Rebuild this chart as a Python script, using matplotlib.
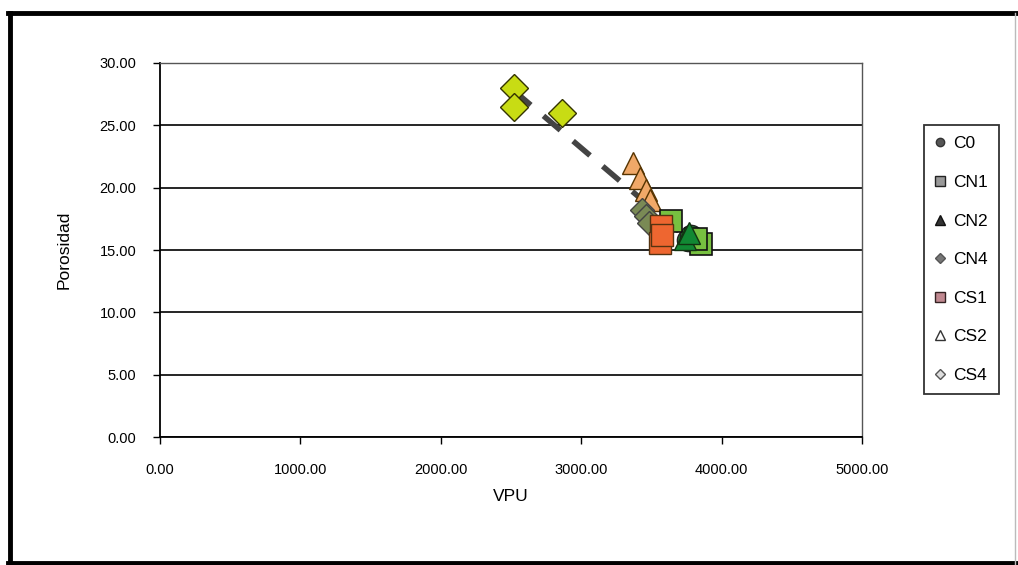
import numpy as np
import matplotlib
matplotlib.use("Agg")
import matplotlib.pyplot as plt
from matplotlib.lines import Line2D

plt.rcParams['font.family'] = ['Liberation Sans Narrow', 'Liberation Sans', 'DejaVu Sans']

# data (VPU, porosidad)
series = ["C0", "CN1", "CN2", "CN4", "CS1", "CS2", "CS4"]
vpu_c0 = [3760, 3780]
por_c0 = [15.8, 16.1]
vpu_cn1 = [3850, 3820, 3640]
por_cn1 = [15.5, 15.9, 17.3]
vpu_cn2 = [3740, 3765]
por_cn2 = [15.9, 16.4]
vpu_cn4 = [3430, 3460, 3480]
por_cn4 = [18.2, 17.7, 17.2]
vpu_cs1 = [3570, 3560, 3575]
por_cs1 = [16.9, 15.6, 16.2]
vpu_cs2 = [3370, 3420, 3460, 3490]
por_cs2 = [22.0, 20.8, 19.8, 19.0]
vpu_cs4 = [2520, 2520, 2860]
por_cs4 = [28.0, 26.5, 26.0]

fig = plt.figure(figsize=(10.18, 5.65), dpi=100)
ax = fig.add_axes([0.1572, 0.2265, 0.6896, 0.662])

ax.set_xlim(0, 5000)
ax.set_ylim(0, 30)
ax.set_xticks([0, 1000, 2000, 3000, 4000, 5000])
ax.set_yticks([0, 5, 10, 15, 20, 25, 30])
ax.set_xticklabels(["%.2f" % v for v in ax.get_xticks()])
ax.set_yticklabels(["%.2f" % v for v in ax.get_yticks()])
ax.tick_params(direction='out', length=5, width=1, labelsize=10.5)
ax.tick_params(axis='x', pad=14)
ax.tick_params(axis='y', pad=12)
ax.grid(axis='y', color='black', linewidth=1.2)
ax.set_axisbelow(True)
for s in ['top', 'right']:
    ax.spines[s].set_color('#555555')
    ax.spines[s].set_linewidth(1)
for s in ['left', 'bottom']:
    ax.spines[s].set_linewidth(1.3)

# trend line over all points
all_x = np.array(vpu_c0 + vpu_cn1 + vpu_cn2 + vpu_cn4 + vpu_cs1 + vpu_cs2 + vpu_cs4)
all_y = np.array(por_c0 + por_cn1 + por_cn2 + por_cn4 + por_cs1 + por_cs2 + por_cs4)
m, b = np.polyfit(all_x, all_y, 1)
tx = np.array([all_x.min(), all_x.max()])
ax.plot(tx, m * tx + b, color='#444444', linewidth=4, dashes=(4, 3), zorder=2)

ms = 16
ax.plot(vpu_cs4, por_cs4, 'D', color='#c8dc14', mec='#333300', mew=1, ms=ms * 0.9, ls='none', zorder=3)
ax.plot(vpu_cs2, por_cs2, '^', color='#f0a868', mec='#553300', mew=1, ms=ms, ls='none', zorder=3)
ax.plot(vpu_cn4, por_cn4, 'D', color='#7a8a55', mec='#444444', mew=1, ms=ms * 0.75, ls='none', zorder=3)
ax.plot(vpu_c0, por_c0, 'o', color='#227733', mec='#222222', mew=1, ms=ms, ls='none', zorder=3)
ax.plot(vpu_cn1, por_cn1, 's', color='#77c040', mec='#111111', mew=1.2, ms=ms, ls='none', zorder=3)
ax.plot(vpu_cs1, por_cs1, 's', color='#ee6630', mec='#553311', mew=1, ms=ms, ls='none', zorder=4)
ax.plot(vpu_cn2, por_cn2, '^', color='#118833', mec='#113311', mew=1, ms=ms, ls='none', zorder=4)

ax.set_xlabel("VPU", fontsize=12.5, labelpad=8, family=['Liberation Sans', 'DejaVu Sans'])
ax.set_ylabel("Porosidad", fontsize=12.5, labelpad=20, family=['Liberation Sans', 'DejaVu Sans'])

# legend drawn in greys, as in the original picture
handles = [
    Line2D([], [], marker='o', color='#555555', mec='#333333', ls='none', ms=6),
    Line2D([], [], marker='s', color='#999999', mec='#222222', ls='none', ms=7),
    Line2D([], [], marker='^', color='#333333', mec='#111111', ls='none', ms=7),
    Line2D([], [], marker='D', color='#777777', mec='#555555', ls='none', ms=5),
    Line2D([], [], marker='s', color='#c08890', mec='#332222', ls='none', ms=7),
    Line2D([], [], marker='^', color='white', mec='#333333', ls='none', ms=7),
    Line2D([], [], marker='D', color='#dddddd', mec='#555555', ls='none', ms=5),
]
leg = fig.legend(handles, series, loc='upper left', bbox_to_anchor=(924 / 1018, 1 - 125 / 565),
                 frameon=True, fancybox=False, edgecolor='black', fontsize=12.5,
                 handlelength=0.6, handletextpad=0.4, labelspacing=1.35,
                 borderpad=0.65, borderaxespad=0)
leg.get_frame().set_linewidth(1.3)

# outer frame of the chart image
fig.add_artist(Line2D([8 / 1018, 1], [1 - 13 / 565, 1 - 13 / 565], color='black', lw=3.5))
fig.add_artist(Line2D([10 / 1018, 10 / 1018], [1 - 13 / 565, 0], color='black', lw=3.5))
fig.add_artist(Line2D([8 / 1018, 1], [1 - 563 / 565, 1 - 563 / 565], color='black', lw=3.5))
fig.add_artist(Line2D([1015 / 1018, 1015 / 1018], [1 - 13 / 565, 0], color='#bbbbbb', lw=1))

fig.savefig("out.png", dpi=100)
